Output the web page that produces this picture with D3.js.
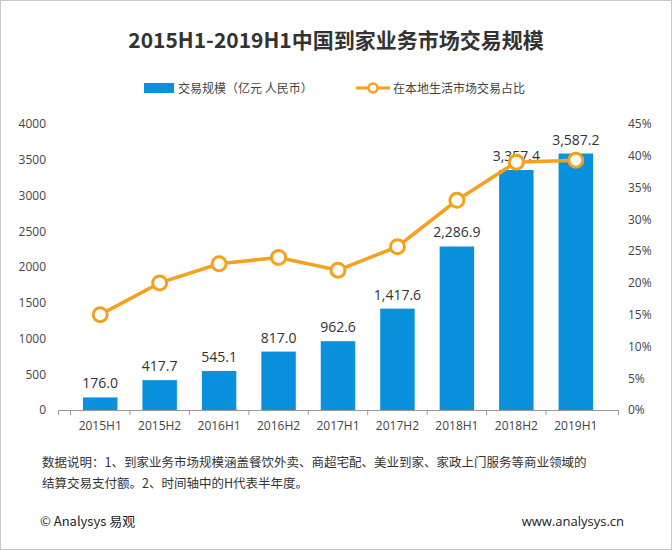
<!DOCTYPE html>
<html>
<head>
<meta charset="utf-8">
<script src="https://cdn.jsdelivr.net/npm/d3@7"></script>
<style>
body { margin: 0; background: #fff; font-family: "Noto Sans CJK SC", "Noto Sans", sans-serif; }
</style>
</head>
<body>
<div id="chart"></div>
<script>
// data
let periods = ["2015H1", "2015H2", "2016H1", "2016H2", "2017H1", "2017H2", "2018H1", "2018H2", "2019H1"];
let scale = [176.0, 417.7, 545.1, 817.0, 962.6, 1417.6, 2286.9, 3357.4, 3587.2];
let share = [15.0, 20.0, 23.0, 24.0, 22.0, 25.7, 33.0, 39.0, 39.3];
let leftTicks = [0, 500, 1000, 1500, 2000, 2500, 3000, 3500, 4000];
let rightTicks = [0, 5, 10, 15, 20, 25, 30, 35, 40, 45];

let svgWidth = 672, svgHeight = 550;
let margin = { top: 124, right: 54, bottom: 140, left: 58 };
let width = svgWidth - margin.left - margin.right;
let height = svgHeight - margin.top - margin.bottom;

let svg = d3.select("#chart").append("svg")
    .attr("width", svgWidth)
    .attr("height", svgHeight);

svg.append("rect")
    .attr("x", 0.5).attr("y", 0.5)
    .attr("width", svgWidth - 1).attr("height", svgHeight - 1)
    .attr("fill", "none").attr("stroke", "#c8c8c8");

svg.append("text")
    .attr("x", svgWidth / 2).attr("y", 48)
    .attr("text-anchor", "middle")
    .attr("font-size", 21).attr("font-weight", "bold").attr("fill", "#333")
    .text("2015H1-2019H1中国到家业务市场交易规模");

// legend
let legend = svg.append("g").attr("font-size", 12).attr("fill", "#444");
legend.append("rect").attr("x", 144).attr("y", 83).attr("width", 30).attr("height", 10).attr("fill", "#0a91de");
legend.append("text").attr("x", 178).attr("y", 93).attr("fill", "#444").text("交易规模（亿元 人民币）");
legend.append("line").attr("x1", 356).attr("x2", 390).attr("y1", 88).attr("y2", 88)
    .attr("stroke", "#f5a11c").attr("stroke-width", 3);
legend.append("circle").attr("cx", 373).attr("cy", 88).attr("r", 4.5)
    .attr("fill", "#fff").attr("stroke", "#f5a11c").attr("stroke-width", 2.5);
legend.append("text").attr("x", 393).attr("y", 93).attr("fill", "#444").text("在本地生活市场交易占比");

let chartGroup = svg.append("g")
    .attr("transform", `translate(${margin.left}, ${margin.top})`);

let x = d3.scaleBand().domain(periods).range([0, width]).padding(0.42);
let y = d3.scaleLinear().domain([0, 4000]).range([height, 0]);
let y2 = d3.scaleLinear().domain([0, 45]).range([height, 0]);

let leftAxis = chartGroup.append("g")
    .call(d3.axisLeft(y).tickValues(leftTicks).tickFormat(d3.format("d")).tickSize(0).tickPadding(12));
leftAxis.select(".domain").remove();
leftAxis.selectAll("text").attr("font-size", 12).attr("fill", "#444").attr("font-family", "Open Sans, sans-serif");

let rightAxis = chartGroup.append("g")
    .attr("transform", `translate(${width}, 0)`)
    .call(d3.axisRight(y2).tickValues(rightTicks).tickFormat(d => d + "%").tickSize(0).tickPadding(10));
rightAxis.select(".domain").remove();
rightAxis.selectAll("text").attr("font-size", 12).attr("fill", "#444").attr("font-family", "Open Sans, sans-serif");

let bottomAxis = chartGroup.append("g")
    .attr("transform", `translate(0, ${height})`)
    .call(d3.axisBottom(x).tickSize(5).tickPadding(6));
bottomAxis.select(".domain").attr("stroke", "#999");
bottomAxis.selectAll("line").attr("stroke", "#999");
bottomAxis.selectAll("text").attr("font-size", 12).attr("fill", "#444").attr("font-family", "Open Sans, sans-serif");
// ticks between categories
bottomAxis.selectAll(".tick line").attr("transform", `translate(${-x.step() / 2}, 0)`);

chartGroup.selectAll(".bar")
    .data(scale)
    .enter().append("rect")
    .attr("x", (d, i) => x(periods[i]))
    .attr("y", d => y(d))
    .attr("width", x.bandwidth())
    .attr("height", d => height - y(d))
    .attr("fill", "#0a91de");

chartGroup.selectAll(".val")
    .data(scale)
    .enter().append("text")
    .attr("x", (d, i) => x(periods[i]) + x.bandwidth() / 2)
    .attr("y", d => y(d) - 9)
    .attr("text-anchor", "middle")
    .attr("font-size", 14).attr("fill", "#333").attr("font-family", "Open Sans, sans-serif")
    .text(d => d3.format(",.1f")(d));

let line = d3.line()
    .x((d, i) => x(periods[i]) + x.bandwidth() / 2)
    .y(d => y2(d));

chartGroup.append("path")
    .datum(share)
    .attr("d", line)
    .attr("fill", "none").attr("stroke", "#f5a11c").attr("stroke-width", 3.5);

chartGroup.selectAll(".dot")
    .data(share)
    .enter().append("circle")
    .attr("cx", (d, i) => x(periods[i]) + x.bandwidth() / 2)
    .attr("cy", d => y2(d))
    .attr("r", 7)
    .attr("fill", "#fff").attr("stroke", "#f5a11c").attr("stroke-width", 3);

// notes and footer
let note = svg.append("g").attr("font-size", 12.5).attr("fill", "#333");
note.append("text").attr("x", 42).attr("y", 467).text("数据说明：1、到家业务市场规模涵盖餐饮外卖、商超宅配、美业到家、家政上门服务等商业领域的");
note.append("text").attr("x", 42).attr("y", 488).text("结算交易支付额。2、时间轴中的H代表半年度。");

svg.append("text").attr("x", 40).attr("y", 526)
    .attr("font-size", 13).attr("fill", "#222").text("© Analysys 易观");
svg.append("text").attr("x", 624).attr("y", 526).attr("text-anchor", "end")
    .attr("font-size", 13).attr("fill", "#222").attr("font-family", "Open Sans, sans-serif").text("www.analysys.cn");
</script>
</body>
</html>
